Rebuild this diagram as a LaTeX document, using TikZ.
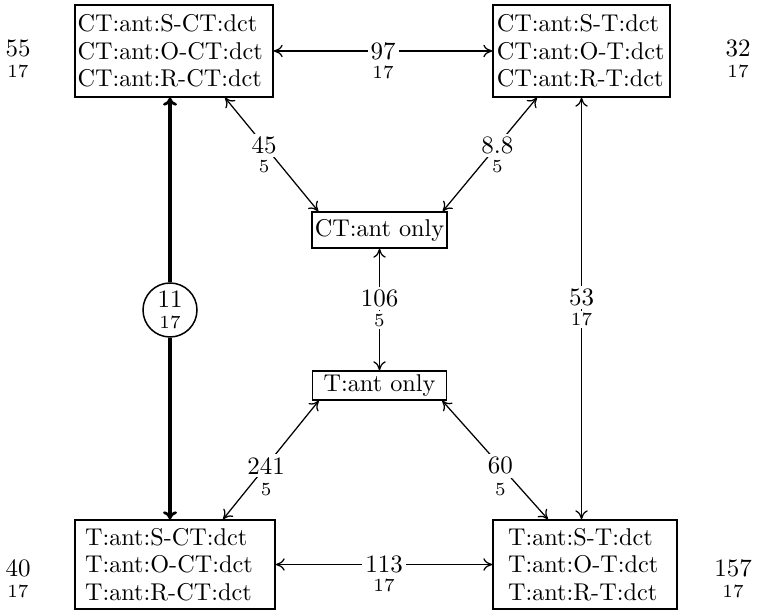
\documentclass[tikz,border=0pt]{standalone}
\usetikzlibrary{arrows.meta}
\begin{document}
\begin{tikzpicture}[x=0.4pt,y=-0.4pt,
  every node/.style={inner sep=0pt},
  state/.style={draw, line width=0.55pt, align=left,
    font=\fontsize{9.7}{11}\selectfont, minimum height=36.8pt},
  single/.style={draw, line width=0.55pt, inner xsep=1pt,
    font=\fontsize{9.7}{11}\selectfont},
  num/.style={fill=white, inner sep=1.2pt, font=\fontsize{10}{11}\selectfont},
  sub/.style={fill=white, inner sep=1pt, font=\fontsize{7.4}{8}\selectfont},
  tip/.tip={Computer Modern Rightarrow[length=3.6pt,width=5pt]},
  boldtip/.tip={Computer Modern Rightarrow[length=3.2pt,width=5.6pt,line width=1.1pt]},
  link/.style={line width=0.5pt, tip-tip},
  strong/.style={line width=1.6pt},
]
\useasboundingbox (0,0) rectangle (757,610);

% the four corner states
\node[state, inner xsep=1pt, text width=77.2pt] (tl) at (174,51)
  {CT:ant:S-CT:dct\\CT:ant:O-CT:dct\\CT:ant:R-CT:dct};
\node[state, inner xsep=1.5pt, text width=67.8pt] (tr) at (581.5,51)
  {CT:ant:S-T:dct\\CT:ant:O-T:dct\\CT:ant:R-T:dct};
\node[state, inner xsep=4pt, text width=72pt, minimum height=35.6pt] (bl) at (175,564.5)
  {T:ant:S-CT:dct\\T:ant:O-CT:dct\\T:ant:R-CT:dct};
\node[state, inner xsep=6pt, text width=61.6pt, minimum height=35.6pt] (br) at (585,564.5)
  {T:ant:S-T:dct\\T:ant:O-T:dct\\T:ant:R-T:dct};

% the two single-region states
\node[single, minimum width=54pt, minimum height=14.4pt] (ctonly) at (379.5,230) {CT:ant only};
\node[single, minimum width=53.6pt, minimum height=11.6pt] (tonly) at (379.5,385.5) {T:ant only};

% circled value on the thick link
\node[draw, circle, line width=0.6pt, minimum size=21.6pt, align=center,
  font=\fontsize{10}{11}\selectfont] (cyc) at (170,310)
  {11\\[-2.4pt]{\fontsize{7.4}{8}\selectfont 17}};

% values beside the corner states
\node[num] (v55) at (18,48) {55};
\node[sub] (s55) at (18,71) {17};
\node[num] (v32) at (738,48) {32};
\node[sub] (s32) at (738,71) {17};
\node[num] (v40) at (18,568) {40};
\node[sub] (s40) at (18,591) {17};
\node[num] (v157) at (733,568) {157};
\node[sub] (s157) at (733,591) {17};

% horizontal links
\draw[link] (tl.east) -- node[num]{97} node[sub, yshift=-8.4pt]{17} (tr.west);
\draw[link] (bl.east) -- node[num]{113} node[sub, yshift=-8.4pt]{17} (br.west);

% thick link through the circle
\draw[strong, boldtip-] (tl.south -| cyc.north) -- (cyc.north);
\draw[strong, -boldtip] (cyc.south) -- (bl.north -| cyc.south);

% right vertical link
\draw[link] (tr.south) -- node[num, pos=.474]{53} node[sub, pos=.474, yshift=-8.8pt]{17}
  (tr.south |- br.north);

% links through the single-region states
\draw[link] ([xshift=20.4pt]tl.south) -- node[num, pos=.42]{45} node[sub, pos=.42, yshift=-8.6pt]{5}
  ([xshift=2.8pt]ctonly.north west);
\draw[link] ([xshift=-17.8pt]tr.south) -- node[num, pos=.42]{8.8} node[sub, pos=.42, yshift=-8.6pt]{5}
  ([xshift=-2pt]ctonly.north east);
\draw[link] (ctonly.south) -- node[num, pos=.41]{106} node[sub, pos=.41, yshift=-8.6pt]{5}
  (tonly.north);
\draw[link] ([xshift=2.8pt]tonly.south west) -- node[num, pos=.55]{241} node[sub, pos=.55, yshift=-9.4pt]{5}
  ([xshift=19.2pt]bl.north);
\draw[link] ([xshift=-2pt]tonly.south east) -- node[num, pos=.55]{60} node[sub, pos=.55, yshift=-9.4pt]{5}
  ([xshift=-14.8pt]br.north);
\end{tikzpicture}
\end{document}
